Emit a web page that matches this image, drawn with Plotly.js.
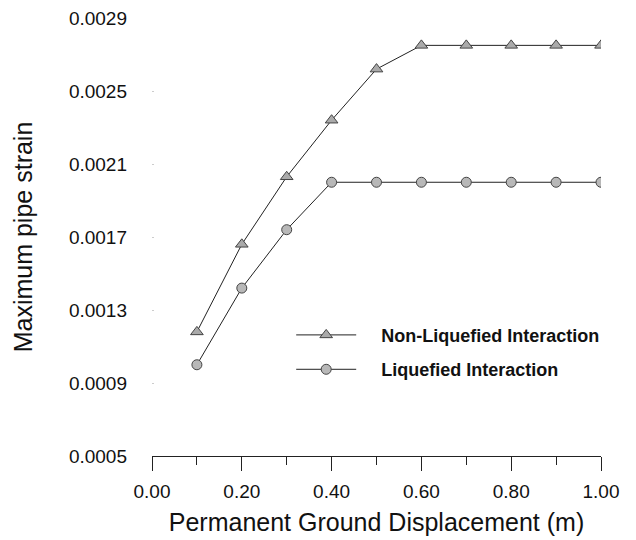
<!DOCTYPE html>
<html>
<head>
<meta charset="utf-8">
<script src="https://cdn.plot.ly/plotly-3.0.1.min.js"></script>
<style>html,body{margin:0;padding:0;background:#fff;}#chart{width:636px;height:540px;}</style>
</head>
<body>
<div id="chart"></div>
<script>
const displacement = [0.1, 0.2, 0.3, 0.4, 0.5, 0.6, 0.7, 0.8, 0.9, 1.0];
const nonLiquefied = [0.00118, 0.00166, 0.00203, 0.00234, 0.00262, 0.00275, 0.00275, 0.00275, 0.00275, 0.00275];
const liquefied = [0.00100, 0.00142, 0.00174, 0.00200, 0.00200, 0.00200, 0.00200, 0.00200, 0.00200, 0.00200];
const seriesNames = ["Non-Liquefied Interaction", "Liquefied Interaction"];
const xTickVals = [0, 0.2, 0.4, 0.6, 0.8, 1.0];
const xTickText = ["0.00", "0.20", "0.40", "0.60", "0.80", "1.00"];
const yTickVals = [0.0005, 0.0009, 0.0013, 0.0017, 0.0021, 0.0025, 0.0029];
const yTickText = ["0.0005", "0.0009", "0.0013", "0.0017", "0.0021", "0.0025", "0.0029"];

const font = "Liberation Sans, Arial, Helvetica, sans-serif";
const pad = "\u00a0\u00a0\u00a0\u00a0";

const traces = [
  {
    x: displacement, y: nonLiquefied, name: pad + seriesNames[0], legendgroup: "a",
    type: "scatter", mode: "lines+markers",
    line: {color: "#222", width: 1},
    marker: {symbol: "triangle-up", size: 11, color: "#aaaaaa", line: {color: "#444", width: 1}}
  },
  {
    x: displacement, y: liquefied, name: pad + seriesNames[1], legendgroup: "b",
    type: "scatter", mode: "lines+markers",
    line: {color: "#222", width: 1},
    marker: {symbol: "circle", size: 10, color: "#b8b8b8", line: {color: "#444", width: 1}}
  }
];

const layout = {
  width: 636, height: 540,
  paper_bgcolor: "#fff", plot_bgcolor: "#fff",
  margin: {l: 152, r: 35, t: 18, b: 84},
  font: {family: font, color: "#111"},
  showlegend: true,
  legend: {
    x: 0.31, y: 0.237, xanchor: "left", yanchor: "middle",
    bgcolor: "rgba(0,0,0,0)", itemwidth: 60,
    traceorder: "grouped", tracegroupgap: 8,
    font: {family: font, size: 18, color: "#111", weight: "bold"}
  },
  xaxis: {
    range: [0, 1.0], tickvals: xTickVals, ticktext: xTickText,
    showgrid: false, zeroline: false, showline: true, linecolor: "#222", linewidth: 1,
    ticks: "outside", ticklen: 14, tickcolor: "#222", tickwidth: 1,
    minor: {dtick: 0.1, tick0: 0, ticks: "outside", ticklen: 8, tickcolor: "#222", tickwidth: 1, showgrid: false},
    ticklabelstandoff: 4,
    tickfont: {family: font, size: 19, color: "#111"},
    title: {text: "Permanent Ground Displacement (m)", font: {family: font, size: 25, color: "#111"}, standoff: 12}
  },
  yaxis: {
    range: [0.0005, 0.0029], tickvals: yTickVals, ticktext: yTickText,
    showgrid: false, zeroline: false, showline: false,
    ticks: "inside", ticklen: 2, tickcolor: "#ccc",
    tickfont: {family: font, size: 19, color: "#111"},
    ticklabelstandoff: 24,
    title: {text: "Maximum pipe strain", font: {family: font, size: 25, color: "#111"}, standoff: 29}
  }
};

Plotly.newPlot("chart", traces, layout, {displayModeBar: false, staticPlot: true});
</script>
</body>
</html>
